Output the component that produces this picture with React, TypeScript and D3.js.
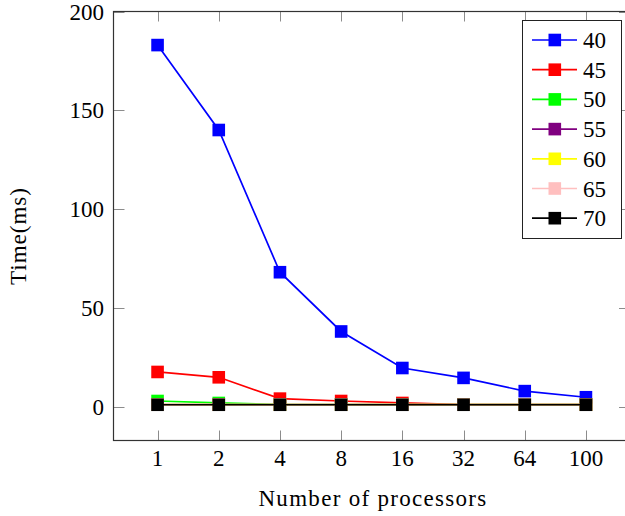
import { useEffect, useRef } from "react";
import * as d3 from "d3";

const processors = ["1", "2", "4", "8", "16", "32", "64", "100"];
const yTicks = [0, 50, 100, 150, 200];

const seriesNames = ["40", "45", "50", "55", "60", "65", "70"];
const seriesColors = ["#0000ff", "#ff0000", "#00ff00", "#800080", "#ffff00", "#ffbfbf", "#000000"];

const t40 = [183, 140, 68, 38, 19.5, 14.5, 7.8, 4.7];
const t45 = [17.5, 14.8, 4, 2.8, 1.8, 1, 1, 1];
const t50 = [2.8, 1.8, 1, 1, 1, 1, 1, 1];
const t55 = [1, 1, 1, 1, 1, 1, 1, 1];
const t60 = [1, 1, 1, 1, 1, 1, 1, 1];
const t65 = [1, 1, 1, 1, 1, 1, 1, 1];
const t70 = [0.9, 0.9, 0.9, 0.9, 0.9, 0.9, 0.9, 0.9];

const seriesValues = [t40, t45, t50, t55, t60, t65, t70];

const FONT = "'Liberation Serif', 'Times New Roman', serif";

const App = () => {
    const container = useRef<SVGSVGElement>(null);

    useEffect(() => {
        const svgEl = container.current;
        if (!svgEl) return;
        svgEl.innerHTML = "";

        const width = 625, height = 516;
        const left = 113.5, right = 630, top = 11.5, bottom = 440.5;

        const svg = d3.select(svgEl)
            .attr("width", width)
            .attr("height", height);

        const x = d3.scalePoint<string>()
            .domain(processors)
            .range([left, right])
            .padding(0.72);

        const y = d3.scaleLinear()
            .domain([-17.2, 200])
            .range([bottom, top]);

        const g = svg.append("g");

        // ticks, drawn inward on all four sides
        const tickColor = "#8c8c8c";
        processors.forEach((p) => {
            const px = Math.round(x(p)!) + 0.5;
            g.append("line").attr("x1", px).attr("x2", px).attr("y1", bottom).attr("y2", bottom - 10)
                .attr("stroke", tickColor).attr("stroke-width", 1);
            g.append("line").attr("x1", px).attr("x2", px).attr("y1", top).attr("y2", top + 10)
                .attr("stroke", tickColor).attr("stroke-width", 1);
            g.append("text").attr("x", x(p)!).attr("y", 466)
                .attr("text-anchor", "middle")
                .style("font-family", FONT).style("font-size", "23px")
                .text(p);
        });
        yTicks.forEach((v) => {
            const py = Math.round(y(v)) + 0.5;
            g.append("line").attr("x1", left).attr("x2", left + 11).attr("y1", py).attr("y2", py)
                .attr("stroke", tickColor).attr("stroke-width", 1);
            g.append("line").attr("x1", right).attr("x2", right - 11).attr("y1", py).attr("y2", py)
                .attr("stroke", tickColor).attr("stroke-width", 1);
            g.append("text").attr("x", 104).attr("y", y(v) + 8)
                .attr("text-anchor", "end")
                .style("font-family", FONT).style("font-size", "23px")
                .text(v);
        });

        // frame
        g.append("rect")
            .attr("x", left).attr("y", top)
            .attr("width", right - left).attr("height", bottom - top)
            .attr("fill", "none").attr("stroke", "#333").attr("stroke-width", 1.2);

        // lines + square markers
        const line = d3.line<number>()
            .x((d, i) => x(processors[i])!)
            .y((d) => y(d));

        seriesValues.forEach((vals, si) => {
            const color = seriesColors[si];
            g.append("path")
                .attr("d", line(vals))
                .attr("fill", "none")
                .attr("stroke", color)
                .attr("stroke-width", 1.7);
            g.selectAll(null)
                .data(vals)
                .join("rect")
                .attr("x", (d, i) => x(processors[i])! - 6.3)
                .attr("y", (d) => y(d) - 6.3)
                .attr("width", 12.6)
                .attr("height", 12.6)
                .attr("fill", color);
        });

        // legend
        const lx = 522, ly = 20, lw = 99, lh = 218;
        const legend = g.append("g");
        legend.append("rect")
            .attr("x", lx + 0.5).attr("y", ly + 0.5)
            .attr("width", lw).attr("height", lh)
            .attr("fill", "white").attr("stroke", "#222").attr("stroke-width", 1);
        seriesNames.forEach((name, i) => {
            const cy = 40 + i * 29.7;
            legend.append("line")
                .attr("x1", 532).attr("x2", 577).attr("y1", cy).attr("y2", cy)
                .attr("stroke", seriesColors[i]).attr("stroke-width", 1.7);
            legend.append("rect")
                .attr("x", 548.5).attr("y", cy - 6.3)
                .attr("width", 12.6).attr("height", 12.6)
                .attr("fill", seriesColors[i]);
            legend.append("text")
                .attr("x", 583).attr("y", cy + 8)
                .style("font-family", FONT).style("font-size", "23px")
                .text(name);
        });

        // axis titles
        g.append("text")
            .attr("x", 373).attr("y", 506)
            .attr("text-anchor", "middle")
            .style("font-family", FONT).style("font-size", "23px")
            .style("letter-spacing", "1.3px")
            .text("Number of processors");
        g.append("text")
            .attr("transform", `translate(26, 236) rotate(-90)`)
            .attr("text-anchor", "middle")
            .style("font-family", FONT).style("font-size", "23px")
            .style("letter-spacing", "1px")
            .text("Time(ms)");
    }, []);

    return (
        <div style={{ position: "absolute", left: 0, top: 0 }}>
            <svg ref={container} style={{ display: "block" }}></svg>
        </div>
    );
};

export default App;
